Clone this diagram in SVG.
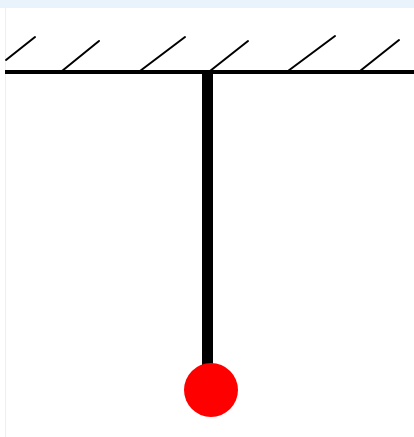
<svg xmlns="http://www.w3.org/2000/svg" width="414" height="437" viewBox="0 0 414 437">
<style>
.hatch{stroke:#000;stroke-width:2;stroke-linecap:round}
</style>
<rect x="0" y="0" width="414" height="437" fill="#fff"/>
<rect x="0" y="0" width="414" height="8" fill="#e9f3fb"/>
<line x1="5.5" y1="8" x2="5.5" y2="437" stroke="#eceff1" stroke-width="1"/>
<g id="ceiling">
<line x1="5" y1="72" x2="414" y2="72" stroke="#000" stroke-width="4"/>
<line class="hatch" x1="6" y1="60" x2="35" y2="37"/>
<line class="hatch" x1="62" y1="71" x2="99" y2="41"/>
<line class="hatch" x1="140" y1="71" x2="185" y2="37"/>
<line class="hatch" x1="210" y1="71" x2="248" y2="41"/>
<line class="hatch" x1="288" y1="71" x2="335" y2="36"/>
<line class="hatch" x1="360" y1="71" x2="399" y2="40"/>
</g>
<g id="rod">
<rect x="202" y="72" width="11" height="296" fill="#000"/>
</g>
<g id="bob">
<circle cx="211" cy="390" r="27" fill="#ff0000"/>
</g>
</svg>
